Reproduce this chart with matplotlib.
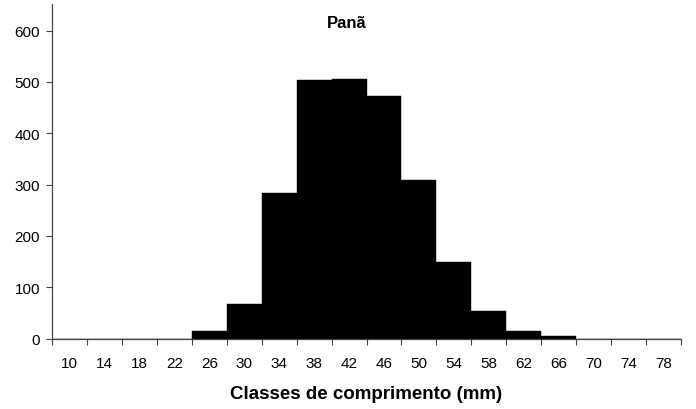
import matplotlib
matplotlib.use("Agg")
import matplotlib.pyplot as plt
import numpy as np

plt.rcParams['font.family'] = ['Liberation Sans', 'DejaVu Sans']

categories = ["10", "14", "18", "22", "26", "30", "34", "38", "42", "46",
              "50", "54", "58", "62", "66", "70", "74", "78"]
values = [0, 0, 0, 0, 15, 68, 283, 503, 505, 472, 309, 149, 53, 14, 4, 0, 0, 0]
title = "Panã"
xlabel = "Classes de comprimento (mm)"
yticks = [0, 100, 200, 300, 400, 500, 600]

fig = plt.figure(figsize=(6.96, 4.10), dpi=100)
ax = fig.add_axes([52/696, 1-339.5/410, (681-52)/696, (339.5-5)/410])

x = np.arange(len(categories))
ax.bar(x, values, width=1.0, color='black', edgecolor='black', linewidth=0.3)

ax.set_xlim(-0.5, len(categories) - 0.5)
ax.set_ylim(0, 652)

# major ticks at category boundaries (unlabeled), minor at centers (labeled)
ax.set_xticks(np.arange(len(categories) + 1) - 0.5)
ax.set_xticklabels([])
ax.set_xticks(x, minor=True)
ax.set_xticklabels(categories, minor=True, fontsize=11)
ax.tick_params(axis='x', which='minor', length=0, pad=12.5)
ax.tick_params(axis='x', which='major', length=4, width=0.8, color='#444444', direction='out')

ax.set_yticks(yticks)
ax.set_yticklabels([str(v) for v in yticks], fontsize=11)
ax.tick_params(axis='y', length=4, width=0.8, color='#444444', direction='out', pad=4.5)

for s in ['top', 'right']:
    ax.spines[s].set_visible(False)
for s in ['left', 'bottom']:
    ax.spines[s].set_color('#444444')
    ax.spines[s].set_linewidth(0.9)

fig.text(347/696, 1-28.3/410, title, ha='center', va='baseline', fontsize=12, fontweight='bold')
fig.text(366.5/696, 1-399.5/410, xlabel, ha='center', va='baseline', fontsize=13.5, fontweight='bold')

fig.savefig("out.png", dpi=100)
